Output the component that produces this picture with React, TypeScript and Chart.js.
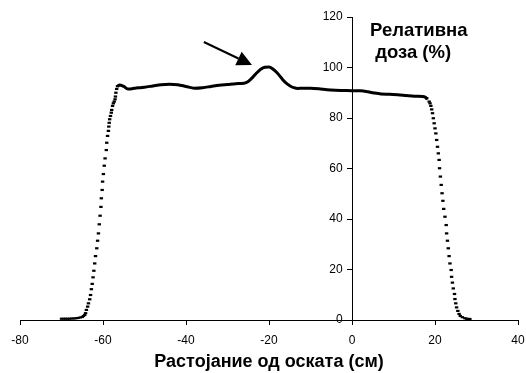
import React, { useEffect, useRef } from "react";
import { Chart, registerables } from "chart.js";

Chart.register(...registerables);

// Axis ticks
const X_MIN = -80;
const X_MAX = 40;
const X_STEP = 20;
const Y_MIN = 0;
const Y_MAX = 120;
const Y_STEP = 20;

// Texts
const X_TITLE = "Растојание од оската (см)";
const Y_TITLE_LINES = ["Релативна", " доза (%)"];

// Plateau (solid part of the profile)
const plateauX = [
  -56.5, -56, -55, -54, -53, -52, -51, -50, -48, -46, -44, -42, -40, -38, -36, -34, -32, -30, -28, -26,
  -25, -24, -23, -22, -21, -20, -19, -18, -17, -16, -15, -14, -13, -12, -10, -8, -6, -4, -2, 0, 2, 3,
  5, 7, 9, 11, 13, 15, 17, 17.6, 18.2,
];
const plateauY = [
  92.6, 93.1, 92.5, 91.5, 91.6, 91.9, 92.0, 92.2, 92.7, 93.2, 93.4, 93.2, 92.5, 91.8, 92.0, 92.5, 93.0, 93.3, 93.6, 93.8,
  94.5, 96.0, 97.8, 99.3, 100.1, 100.2, 99.3, 97.8, 95.8, 94.0, 92.8, 92.0, 91.7, 91.8, 91.8, 91.6, 91.2, 91.0, 90.9, 90.8, 90.8, 90.6,
  90.0, 89.5, 89.4, 89.2, 88.9, 88.6, 88.5, 88.3, 87.5,
];

// Left penumbra (dotted)
const leftX = [
  -70.0, -69.5, -69.0, -68.5, -68.0, -67.5, -67.0, -66.5, -66.0, -65.5, -65.0, -64.7, -64.4, -64.2, -64.0,
  -63.7, -63.5, -63.2, -63.0, -62.8, -62.6, -62.4, -62.2, -62.0, -61.8, -61.5, -61.3, -61.1, -60.9, -60.7,
  -60.5, -60.4, -60.2, -60.1, -59.9, -59.7, -59.5, -59.2, -59.1, -58.9, -58.7, -58.6, -58.5, -58.4, -58.2,
  -58.0, -57.9, -57.7, -57.5, -57.3, -57.1, -57.0, -56.9, -56.7, -56.5,
];
const leftY = [
  0.5, 0.5, 0.5, 0.5, 0.5, 0.6, 0.6, 0.7, 0.8, 1.0, 1.2, 1.6, 2.0, 2.7, 4.0,
  5.3, 6.6, 8.2, 9.9, 12.2, 14.3, 16.9, 19.5, 22.4, 25.3, 28.4, 31.4, 34.3, 37.9, 41.3,
  44.8, 48.2, 51.5, 54.8, 57.8, 61.1, 64.0, 67.3, 70.2, 72.9, 74.9, 76.6, 78.1, 79.5, 80.8,
  82.1, 83.2, 84.8, 85.8, 86.5, 87.4, 88.5, 90.0, 91.5, 92.6,
];

// Right penumbra (dotted)
const rightX = [
  18.0, 18.6, 18.8, 19.0, 19.2, 19.4, 19.6, 19.8, 20.0, 20.2, 20.4, 20.6, 20.8, 21.0, 21.1,
  21.3, 21.5, 21.7, 21.9, 22.1, 22.4, 22.7, 22.8, 23.0, 23.2, 23.4, 23.6, 23.9, 24.0, 24.2,
  24.4, 24.7, 24.8, 25.0, 25.2, 25.5, 25.8, 26.1, 26.6, 27.2, 27.6, 28.0, 28.4,
];
const rightY = [
  87.8, 86.5, 85.8, 84.8, 83.4, 81.9, 79.9, 77.9, 75.9, 73.9, 71.3, 68.6, 66.0, 63.4, 60.1,
  56.8, 53.5, 50.2, 47.2, 44.0, 40.9, 37.6, 34.3, 31.4, 28.4, 25.3, 22.4, 19.8, 17.1, 14.8,
  12.5, 10.3, 8.3, 6.6, 5.0, 3.6, 2.4, 1.6, 1.1, 0.7, 0.5, 0.4, 0.4,
];

// Arrow annotation (data coordinates)
const arrowFrom = [-35.7, 110.1];
const arrowTo = [-24.1, 101.0];

const FONT = "'Liberation Sans', Arial, Helvetica, sans-serif";

export default function App() {
  const ref = useRef<HTMLCanvasElement | null>(null);

  useEffect(() => {
    const canvas = ref.current;
    if (!canvas) return;

    const zip = (xs: number[], ys: number[]) => xs.map((x, i) => ({ x, y: ys[i] }));

    const overlay = {
      id: "overlay",
      afterDatasetsDraw(chart: any) {
        const { ctx, scales } = chart;
        const xs = scales.x;
        const ys = scales.y;
        // arrow
        const x1 = xs.getPixelForValue(arrowFrom[0]);
        const y1 = ys.getPixelForValue(arrowFrom[1]);
        const x2 = xs.getPixelForValue(arrowTo[0]);
        const y2 = ys.getPixelForValue(arrowTo[1]);
        const ang = Math.atan2(y2 - y1, x2 - x1);
        const headLen = 15;
        const headHalf = 7.5;
        const bx = x2 - headLen * Math.cos(ang);
        const by = y2 - headLen * Math.sin(ang);
        ctx.save();
        ctx.strokeStyle = "#000";
        ctx.fillStyle = "#000";
        ctx.lineWidth = 2;
        ctx.beginPath();
        ctx.moveTo(x1, y1);
        ctx.lineTo(bx, by);
        ctx.stroke();
        ctx.beginPath();
        ctx.moveTo(x2, y2);
        ctx.lineTo(bx + headHalf * Math.sin(ang), by - headHalf * Math.cos(ang));
        ctx.lineTo(bx - headHalf * Math.sin(ang), by + headHalf * Math.cos(ang));
        ctx.closePath();
        ctx.fill();
        // y title
        const ax = xs.getPixelForValue(0);
        ctx.font = `bold 18.5px ${FONT}`;
        ctx.textAlign = "left";
        ctx.textBaseline = "alphabetic";
        ctx.fillText(Y_TITLE_LINES[0], ax + 18, 36);
        ctx.fillText(Y_TITLE_LINES[1], ax + 18, 58);
        ctx.restore();
      },
    };

    const chart = new Chart(canvas, {
      type: "scatter",
      data: {
        datasets: [
          {
            label: "plateau",
            data: zip(plateauX, plateauY),
            showLine: true,
            borderColor: "#000",
            borderWidth: 3,
            pointRadius: 0,
            tension: 0.4,
            cubicInterpolationMode: "monotone",
          } as any,
          {
            label: "penumbra",
            data: [...zip(leftX, leftY), ...zip(rightX, rightY)],
            showLine: false,
            pointStyle: "line",
            pointRadius: 1.7,
            pointBorderWidth: 2.2,
            pointBorderColor: "#000",
            pointBackgroundColor: "#000",
          } as any,
        ],
      },
      options: {
        animation: false,
        responsive: false,
        events: [],
        layout: { padding: { left: 20, right: 8, top: 17, bottom: 0 } },
        plugins: { legend: { display: false }, tooltip: { enabled: false } },
        scales: {
          x: {
            type: "linear",
            position: "bottom",
            min: X_MIN,
            max: X_MAX,
            ticks: { stepSize: X_STEP, color: "#000", font: { family: FONT, size: 12 }, padding: 8 },
            grid: { drawOnChartArea: false, drawTicks: true, tickLength: 5, color: "#000" },
            border: { color: "#000", width: 1 },
            title: {
              display: true,
              text: X_TITLE,
              color: "#000",
              font: { family: FONT, size: 18, weight: "bold" },
              padding: { top: 2, bottom: 0 },
            },
            afterFit: (s: any) => {
              s.height = 53;
              s.paddingLeft = 0;
              s.paddingRight = 0;
            },
          },
          y: {
            type: "linear",
            position: { x: 0 } as any,
            min: Y_MIN,
            max: Y_MAX,
            ticks: {
              stepSize: Y_STEP,
              color: "#000",
              font: { family: FONT, size: 12 },
              callback: (v: any) => `${v}\u2002 `,
            },
            grid: { drawOnChartArea: false, drawTicks: true, tickLength: 5, color: "#000" },
            border: { color: "#000", width: 1 },
            afterFit: (s: any) => {
              s.paddingTop = 0;
              s.paddingBottom = 0;
            },
          },
        },
      },
      plugins: [overlay],
    });

    return () => chart.destroy();
  }, []);

  return (
    <div style={{ position: "absolute", left: 0, top: 0, width: 526, height: 373, background: "#fff" }}>
      <canvas ref={ref} width={526} height={373} style={{ display: "block" }} />
    </div>
  );
}
